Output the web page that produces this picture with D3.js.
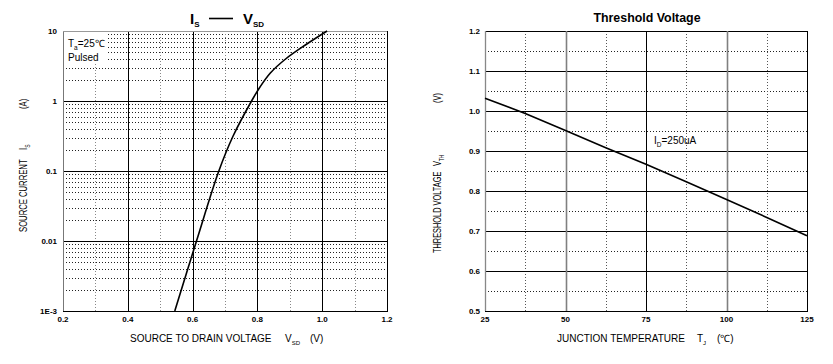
<!DOCTYPE html>
<html>
<head>
<meta charset="utf-8">
<script src="https://cdn.jsdelivr.net/npm/d3@7"></script>
<style>
  body { margin: 0; background: #fff; }
  text { font-family: "Liberation Sans", Arial, sans-serif; fill: #000; }
</style>
</head>
<body>
<div id="chart"></div>
<script>
// left chart: Is vs Vsd (log y)
var vsd = [0.545, 0.612, 0.681, 0.725, 0.782, 0.808, 0.840, 0.887, 0.948, 1.015];
var isd = [0.001, 0.01, 0.1, 0.316, 1.0, 1.585, 2.512, 3.981, 6.31, 10];
var xTicksL = [0.2, 0.4, 0.6, 0.8, 1.0, 1.2];
var xMinorL = [0.3, 0.5, 0.7, 0.9, 1.1];
var yTicksL = [10, 1, 0.1, 0.01, 0.001];
var yLabelsL = ["10", "1", "0.1", "0.01", "1E-3"];

// right chart: threshold voltage vs Tj
var tj = [25, 37.5, 50, 62.5, 75, 87.5, 100, 112.5, 125];
var vth = [1.032, 0.994, 0.951, 0.908, 0.867, 0.823, 0.779, 0.734, 0.688];
var xTicksR = [25, 50, 75, 100, 125];
var xMinorR = [37.5, 62.5, 87.5, 112.5];
var yTicksR = [0.5, 0.6, 0.7, 0.8, 0.9, 1.0, 1.1, 1.2];
var yMinorR = [0.55, 0.65, 0.75, 0.85, 0.95, 1.05, 1.15];

var svg = d3.select("#chart").append("svg")
    .attr("width", 833)
    .attr("height", 364);

function px(v) { return Math.round(v) + 0.5; }

//---------------- left chart ----------------
var xL = d3.scaleLinear().domain([0.2, 1.2]).range([63, 387]);
var yL = d3.scaleLog().domain([0.001, 10]).range([311, 31]);

var gL = svg.append("g");

// minor horizontal lines 2..9 in each decade
var minorY = [];
[0.001, 0.01, 0.1, 1].forEach(function(d) {
  for (var k = 2; k <= 9; k++) minorY.push(d * k);
});
gL.selectAll(".hminor").data(minorY).enter().append("line")
    .attr("x1", xL(0.2)).attr("x2", xL(1.2))
    .attr("y1", function(d) { return px(yL(d)); })
    .attr("y2", function(d) { return px(yL(d)); })
    .attr("stroke", "#222").attr("stroke-dasharray", "1,2");

gL.selectAll(".vminor").data(xMinorL).enter().append("line")
    .attr("x1", function(d) { return px(xL(d)); })
    .attr("x2", function(d) { return px(xL(d)); })
    .attr("y1", yL(10)).attr("y2", yL(0.001))
    .attr("stroke", "#888").attr("stroke-dasharray", "1,2");

gL.selectAll(".hmajor").data([0.01, 0.1, 1]).enter().append("line")
    .attr("x1", xL(0.2)).attr("x2", xL(1.2))
    .attr("y1", function(d) { return px(yL(d)); })
    .attr("y2", function(d) { return px(yL(d)); })
    .attr("stroke", "#000");

gL.selectAll(".vmajor").data([0.4, 0.6, 0.8, 1.0, 1.2]).enter().append("line")
    .attr("x1", function(d) { return px(xL(d)); })
    .attr("x2", function(d) { return px(xL(d)); })
    .attr("y1", yL(10)).attr("y2", yL(0.001))
    .attr("stroke", "#000");

// frame
gL.append("line").attr("x1", px(xL(0.2))).attr("x2", px(xL(0.2)))
    .attr("y1", yL(10)).attr("y2", yL(0.001)).attr("stroke", "#777");
gL.append("line").attr("x1", xL(0.2)).attr("x2", xL(1.2))
    .attr("y1", px(yL(10))).attr("y2", px(yL(10))).attr("stroke", "#999");
gL.append("line").attr("x1", xL(0.2)).attr("x2", xL(1.2) + 1)
    .attr("y1", px(yL(0.001))).attr("y2", px(yL(0.001))).attr("stroke", "#000");

// annotation box
gL.append("rect").attr("x", 64).attr("y", 32).attr("width", 42).attr("height", 32).attr("fill", "#fff");
var ta = gL.append("text").attr("x", 68).attr("y", 47).attr("font-size", "10px");
ta.append("tspan").text("T");
ta.append("tspan").attr("font-size", "6.5px").attr("dy", 3).text("a");
ta.append("tspan").attr("dy", -3).text("=25℃");
gL.append("text").attr("x", 68).attr("y", 61).attr("font-size", "10px").text("Pulsed");

// curve
var lineL = d3.line()
    .x(function(d, i) { return xL(vsd[i]); })
    .y(function(d, i) { return yL(isd[i]); })
    .curve(d3.curveCatmullRom);
gL.append("path").datum(vsd).attr("d", lineL)
    .attr("fill", "none").attr("stroke", "#000").attr("stroke-width", 1.6);

// tick labels
gL.selectAll(".ylab").data(yTicksL).enter().append("text")
    .attr("x", 57).attr("y", function(d) { return yL(d) + 3; })
    .attr("text-anchor", "end").attr("font-size", "8px").attr("font-weight", "bold")
    .text(function(d, i) { return yLabelsL[i]; });
gL.selectAll(".xlab").data(xTicksL).enter().append("text")
    .attr("x", function(d) { return xL(d); }).attr("y", 322)
    .attr("text-anchor", "middle").attr("font-size", "8px").attr("font-weight", "bold")
    .text(function(d) { return d3.format(".1f")(d); });

// axis titles
var xtL = gL.append("text").attr("x", 130).attr("y", 342).attr("font-size", "10px");
xtL.append("tspan").text("SOURCE TO DRAIN VOLTAGE");
xtL.append("tspan").attr("x", 285).text("V");
xtL.append("tspan").attr("font-size", "6px").attr("dy", 3).text("SD");
xtL.append("tspan").attr("x", 310).attr("dy", -3).text("(V)");

// rotated titles are drawn narrower along the text direction, as in the original
var ytL = gL.append("text").attr("transform", "translate(27,232) rotate(-90) scale(0.77,1)").attr("font-size", "10px");
ytL.append("tspan").text("SOURCE CURRENT");
ytL.append("tspan").attr("x", 82 / 0.77).text("I");
ytL.append("tspan").attr("font-size", "6.5px").attr("dy", 3).text("S");
ytL.append("tspan").attr("x", 123 / 0.77).attr("dy", -3).text("(A)");

// title
var tL = gL.append("text").attr("x", 190).attr("y", 24).attr("font-size", "15px").attr("font-weight", "bold");
tL.append("tspan").text("I");
tL.append("tspan").attr("font-size", "8px").attr("dy", 3).text("S");
tL.append("tspan").attr("x", 243).attr("dy", -3).text("V");
tL.append("tspan").attr("font-size", "8px").attr("dy", 3).text("SD");
gL.append("line").attr("x1", 209).attr("x2", 233).attr("y1", 18.5).attr("y2", 18.5)
    .attr("stroke", "#000").attr("stroke-width", 1.6);

//---------------- right chart ----------------
var xR = d3.scaleLinear().domain([25, 125]).range([485, 807]);
var yR = d3.scaleLinear().domain([0.5, 1.2]).range([311, 31]);
var gR = svg.append("g");

gR.selectAll(".hminor").data(yMinorR).enter().append("line")
    .attr("x1", xR(25)).attr("x2", xR(125))
    .attr("y1", function(d) { return px(yR(d)); })
    .attr("y2", function(d) { return px(yR(d)); })
    .attr("stroke", "#222").attr("stroke-dasharray", "1,2");

gR.selectAll(".vminor").data(xMinorR).enter().append("line")
    .attr("x1", function(d) { return px(xR(d)); })
    .attr("x2", function(d) { return px(xR(d)); })
    .attr("y1", yR(1.2)).attr("y2", yR(0.5))
    .attr("stroke", "#555").attr("stroke-dasharray", "1,2");

gR.selectAll(".hmajor").data(yTicksR.slice(1)).enter().append("line")
    .attr("x1", xR(25)).attr("x2", xR(125))
    .attr("y1", function(d) { return px(yR(d)); })
    .attr("y2", function(d) { return px(yR(d)); })
    .attr("stroke", "#000");

gR.selectAll(".vmajor").data([50, 75, 100, 125]).enter().append("line")
    .attr("x1", function(d) { return px(xR(d)); })
    .attr("x2", function(d) { return px(xR(d)); })
    .attr("y1", yR(1.2)).attr("y2", yR(0.5))
    .attr("stroke", function(d) { return (d === 50 || d === 100) ? "#808080" : "#000"; })
    .attr("stroke-width", function(d) { return (d === 50 || d === 100) ? 1.6 : 1; });

gR.append("line").attr("x1", px(xR(25))).attr("x2", px(xR(25)))
    .attr("y1", yR(1.2)).attr("y2", yR(0.5)).attr("stroke", "#888").attr("stroke-width", 1.3);
gR.append("line").attr("x1", xR(25)).attr("x2", xR(125) + 1)
    .attr("y1", px(yR(0.5))).attr("y2", px(yR(0.5))).attr("stroke", "#000");

var lineR = d3.line()
    .x(function(d, i) { return xR(tj[i]); })
    .y(function(d, i) { return yR(vth[i]); });
gR.append("path").datum(tj).attr("d", lineR)
    .attr("fill", "none").attr("stroke", "#000").attr("stroke-width", 1.6);

var id = gR.append("text").attr("x", 654).attr("y", 144).attr("font-size", "10px");
id.append("tspan").text("I");
id.append("tspan").attr("font-size", "6.5px").attr("dy", 3).text("D");
id.append("tspan").attr("dy", -3).text("=250uA");

gR.selectAll(".ylab").data(yTicksR).enter().append("text")
    .attr("x", 480).attr("y", function(d) { return yR(d) + 3; })
    .attr("text-anchor", "end").attr("font-size", "8px").attr("font-weight", "bold")
    .text(function(d) { return d3.format(".1f")(d); });
gR.selectAll(".xlab").data(xTicksR).enter().append("text")
    .attr("x", function(d) { return xR(d); }).attr("y", 322)
    .attr("text-anchor", "middle").attr("font-size", "8px").attr("font-weight", "bold")
    .text(function(d) { return d; });

var xtR = gR.append("text").attr("x", 557).attr("y", 342).attr("font-size", "10px");
xtR.append("tspan").text("JUNCTION TEMPERATURE");
xtR.append("tspan").attr("x", 697).text("T");
xtR.append("tspan").attr("font-size", "6px").attr("dy", 3).text("J");
xtR.append("tspan").attr("x", 717).attr("dy", -3).text("(℃)");

var ytR = gR.append("text").attr("transform", "translate(441,253) rotate(-90) scale(0.74,1)").attr("font-size", "10px");
ytR.append("tspan").text("THRESHOLD VOLTAGE");
ytR.append("tspan").attr("x", 87 / 0.74).text("V");
ytR.append("tspan").attr("font-size", "6.5px").attr("dy", 3).text("TH");
ytR.append("tspan").attr("x", 150 / 0.74).attr("dy", -3).text("(V)");

gR.append("text").attr("x", 647).attr("y", 22).attr("text-anchor", "middle")
    .attr("font-size", "12.4px").attr("font-weight", "bold").text("Threshold Voltage");
</script>
</body>
</html>
